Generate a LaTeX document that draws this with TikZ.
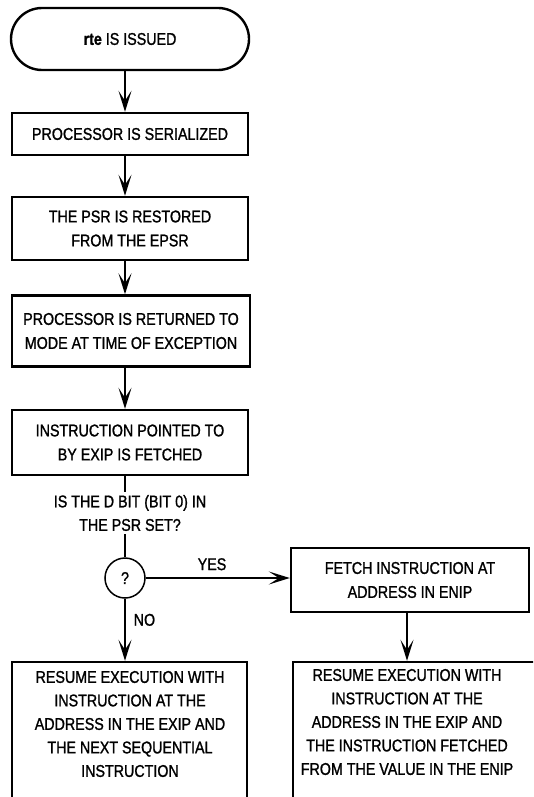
\documentclass[tikz,border=0pt]{standalone}
\usepackage{fontspec}
\setmainfont[FakeStretch=0.84,FakeBold=1.2]{Liberation Sans}
\usetikzlibrary{arrows.meta,calc}
\begin{document}
\begin{tikzpicture}[x=1pt,y=-1pt,
  box/.style={draw, line width=2.4pt, inner sep=0pt, align=center,
    font=\fontsize{17}{24}\selectfont},
  txt/.style={align=center, inner sep=0pt, font=\fontsize{17}{23.5}\selectfont},
  flow/.style={line width=1.5pt, -{Stealth[length=21pt,width=13pt,inset=10pt]}},
  plainline/.style={line width=1.5pt}]
\useasboundingbox (0,0) rectangle (533,797);
\clip (0,0) rectangle (533,797);
\coordinate (sp) at (125,0);
% main column
\node[box, rounded corners=31pt, minimum width=238pt, minimum height=62pt] (t0) at (130,39) {\textbf{rte} IS ISSUED};
\node[box, minimum width=236pt, minimum height=42pt] (b1) at (130,134) {PROCESSOR IS SERIALIZED};
\node[box, minimum width=236pt, minimum height=63pt] (b2) at (130,228.5) {THE PSR IS RESTORED\\FROM THE EPSR};
\node[box, minimum width=238pt, minimum height=71pt] (b3) at (131,331) {PROCESSOR IS RETURNED TO\\MODE AT TIME OF EXCEPTION};
\node[box, minimum width=236pt, minimum height=65pt] (b4) at (130,442.5) {INSTRUCTION POINTED TO\\BY EXIP IS FETCHED};
\node[txt, inner sep=3pt] (q) at (130,513) {IS THE D BIT (BIT 0) IN\\THE PSR SET?};
\node[draw, circle, line width=1.5pt, minimum size=40pt, inner sep=0pt,
  font=\fontsize{17}{20}\selectfont] (c) at (125,578) {?};
\node[box, minimum width=238pt, minimum height=64pt] (f) at (410,580) {FETCH INSTRUCTION AT\\ADDRESS IN ENIP};
% bottom boxes (cut off by the picture edge)
\node[box, minimum width=235pt, minimum height=160pt] (bl) at (129.5,742) {};
\node[txt] (blt) at (130,724) {RESUME EXECUTION WITH\\INSTRUCTION AT THE\\ADDRESS IN THE EXIP AND\\THE NEXT SEQUENTIAL\\INSTRUCTION};
\node[box, minimum width=270pt, minimum height=160pt] (br) at (428,742) {};
\node[txt] (brt) at (407,722) {RESUME EXECUTION WITH\\INSTRUCTION AT THE\\ADDRESS IN THE EXIP AND\\THE INSTRUCTION FETCHED\\FROM THE VALUE IN THE ENIP};
% connectors
\draw[flow] (t0.south -| sp) -- (b1.north -| sp);
\draw[flow] (b1.south -| sp) -- (b2.north -| sp);
\draw[flow] (b2.south -| sp) -- (b3.north -| sp);
\draw[flow] (b3.south -| sp) -- (b4.north -| sp);
\draw[plainline] (b4.south -| sp) -- (q.north -| sp);
\draw[plainline] (q.south -| sp) -- (c.north);
\draw[flow] (c.east) -- (f.west |- c.east)
  node[txt, pos=0.46, above=7pt] {YES};
\draw[flow] (c.south) -- (c.south |- bl.north)
  node[txt, pos=0.34, right=8pt] {NO};
\draw[flow] (f.south -| brt) -- (brt |- br.north);
\end{tikzpicture}
\end{document}
